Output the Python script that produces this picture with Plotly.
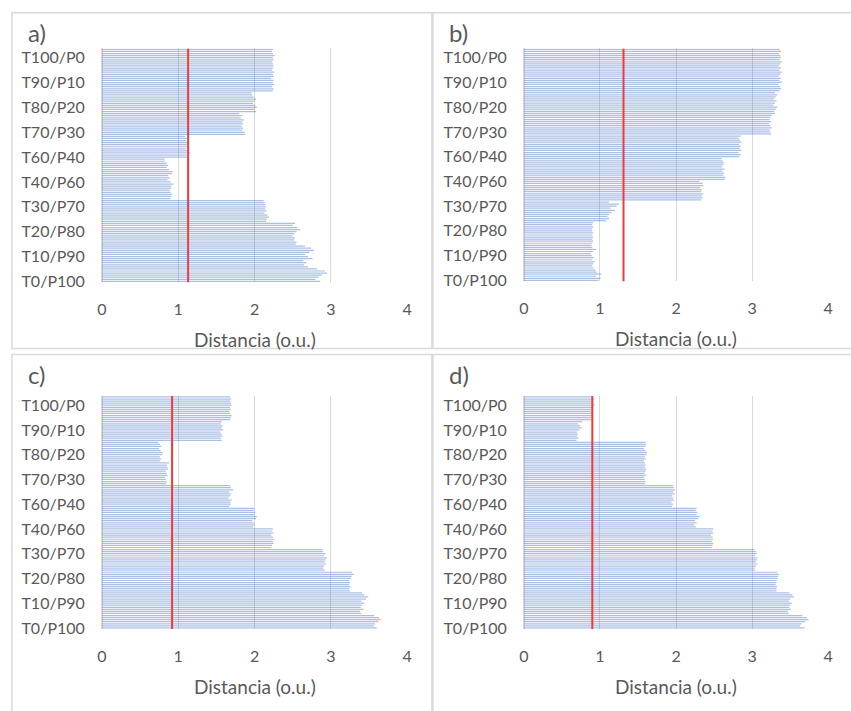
import plotly.graph_objects as go

# ---------------- data ----------------
tick_labels = ["T0/P100", "T10/P90", "T20/P80", "T30/P70", "T40/P60",
               "T60/P40", "T70/P30", "T80/P20", "T90/P10", "T100/P0"]
tick_index = [0, 12, 24, 36, 48, 60, 72, 84, 96, 108]

panel_labels = ["a)", "b)", "c)", "d)"]
thresholds = [1.13, 1.31, 0.92, 0.90]

dist_a = [2.86, 2.80, 2.84, 2.88, 2.95, 2.92, 2.82,
          2.70, 2.65, 2.68, 2.64, 2.76, 2.70, 2.66, 2.72, 2.78, 2.74, 2.66,
          2.54, 2.55, 2.52, 2.53, 2.50, 2.52, 2.55, 2.60, 2.56, 2.50, 2.53,
          2.15, 2.16, 2.19, 2.17, 2.13, 2.16, 2.14, 2.15, 2.14, 2.13, 2.12,
          0.90, 0.91, 0.92, 0.90, 0.89, 0.91, 0.91, 0.94, 0.90, 0.86,
          0.89, 0.87, 0.92, 0.93, 0.88, 0.85, 0.87, 0.85, 0.83, 0.82,
          1.12, 1.11, 1.16, 1.14, 1.10, 1.12, 1.11, 1.13, 1.10, 1.11, 1.09,
          1.88, 1.87, 1.84, 1.85, 1.83, 1.85, 1.84, 1.86, 1.82, 1.84, 1.80,
          2.02, 2.00, 2.03, 2.01, 1.98, 2.00, 2.02, 1.99, 1.97, 1.96,
          2.24, 2.25, 2.23, 2.26, 2.24, 2.25, 2.22, 2.25, 2.24, 2.26, 2.23,
          2.24, 2.25, 2.24, 2.23, 2.25, 2.24, 2.26, 2.24, 2.23, 2.24]

dist_b = [0.98, 1.01, 0.95, 1.02, 0.96, 0.94, 0.92, 0.90, 0.91, 0.93,
          0.90, 0.92, 0.89, 0.88, 0.91, 0.95, 0.90, 0.89, 0.90, 0.91,
          0.90, 0.91, 0.90, 0.91, 0.90, 0.90, 0.91, 0.90, 0.91,
          1.08, 1.12, 1.10, 1.12, 1.15, 1.20, 1.14, 1.22, 1.25, 1.12,
          2.33, 2.35, 2.34, 2.36, 2.33, 2.34, 2.32, 2.36, 2.35, 2.31,
          2.64, 2.65, 2.62, 2.63, 2.61, 2.64, 2.60, 2.62, 2.63, 2.61, 2.60,
          2.83, 2.85, 2.82, 2.86, 2.84, 2.85, 2.83, 2.86, 2.84, 2.82, 2.85,
          3.25, 3.24, 3.23, 3.26, 3.24, 3.22, 3.25, 3.23, 3.24, 3.26,
          3.30, 3.29, 3.31, 3.33, 3.28, 3.30, 3.32, 3.29, 3.31, 3.33, 3.30,
          3.36, 3.38, 3.37, 3.35, 3.39, 3.36, 3.38, 3.35, 3.37, 3.39, 3.36,
          3.38, 3.35, 3.37, 3.39, 3.36, 3.38, 3.37, 3.35, 3.38, 3.36]

dist_c = [3.60, 3.56, 3.58, 3.62, 3.65, 3.63, 3.57,
          3.40, 3.38, 3.43, 3.39, 3.41, 3.44, 3.40, 3.46, 3.49, 3.44, 3.41,
          3.25, 3.24, 3.26, 3.24, 3.25, 3.24, 3.26, 3.27, 3.30, 3.28,
          2.92, 2.90, 2.91, 2.94, 2.92, 2.93, 2.95, 2.91, 2.93, 2.90, 2.89,
          2.22, 2.23, 2.25, 2.24, 2.26, 2.24, 2.22, 2.25, 2.23, 2.24,
          1.98, 2.00, 1.99, 1.97, 2.02, 2.03, 2.00, 2.01, 1.99, 2.00,
          1.67, 1.69, 1.68, 1.70, 1.66, 1.68, 1.69, 1.67, 1.72, 1.69, 1.68,
          0.84, 0.85, 0.84, 0.83, 0.86, 0.85, 0.84, 0.87, 0.86, 0.85, 0.88,
          0.76, 0.78, 0.76, 0.79, 0.80, 0.77, 0.75, 0.78, 0.76, 0.74,
          1.57, 1.56, 1.58, 1.57, 1.55, 1.59, 1.57, 1.58, 1.56, 1.57,
          1.68, 1.69, 1.70, 1.68, 1.67, 1.69, 1.68, 1.70, 1.69, 1.68, 1.69, 1.68]

dist_d = [3.69, 3.63, 3.65, 3.70, 3.74, 3.72, 3.66,
          3.48, 3.47, 3.51, 3.49, 3.50, 3.52, 3.48, 3.50, 3.55, 3.53, 3.49,
          3.32, 3.32, 3.33, 3.31, 3.32, 3.32, 3.33, 3.34, 3.35, 3.33,
          3.04, 3.03, 3.05, 3.07, 3.05, 3.06, 3.07, 3.04, 3.06, 3.05, 3.03,
          2.47, 2.48, 2.49, 2.47, 2.49, 2.48, 2.46, 2.49, 2.48, 2.49,
          2.26, 2.24, 2.27, 2.25, 2.29, 2.31, 2.27, 2.28, 2.26, 2.27,
          1.95, 1.96, 1.94, 1.97, 1.96, 1.95, 1.98, 1.96, 1.99, 1.97, 1.96,
          1.59, 1.60, 1.59, 1.58, 1.60, 1.59, 1.60, 1.61, 1.59, 1.60, 1.59,
          1.58, 1.60, 1.59, 1.61, 1.62, 1.60, 1.58, 1.60, 1.61, 1.60,
          0.69, 0.72, 0.70, 0.71, 0.70, 0.73, 0.76, 0.74, 0.71, 0.77,
          0.90, 0.89, 0.91, 0.90, 0.89, 0.91, 0.90, 0.93, 0.90, 0.91, 0.92, 0.90]

series = [dist_a, dist_b, dist_c, dist_d]

# ---------------- layout (pixels) ----------------
W, H = 851, 711
# plot areas: (x0, x1, ytop, ybottom) in pixels
areas = [(98, 407, 48, 285), (525, 833, 48, 284),
         (98, 407, 400, 636), (525, 833, 400, 636)]
boxes = [(7, 12, 432, 352), (433, 12, 860, 352),
         (7, 358, 432, 720), (433, 358, 860, 720)]

GRAY = "#595959"
FONT = "Lato"

fig = go.Figure()
layout = dict(width=W, height=H, margin=dict(l=0, r=0, t=0, b=0),
              paper_bgcolor="white", plot_bgcolor="white",
              showlegend=False, bargap=0.4,
              font=dict(family=FONT, color=GRAY))
shapes, annotations = [], []

for k, vals in enumerate(series):
    n = len(vals)
    sfx = "" if k == 0 else str(k + 1)
    x0, x1, yt, yb = areas[k]
    xd = [x0 / W, x1 / W]
    yd = [1 - yb / H, 1 - yt / H]
    fig.add_trace(go.Bar(x=vals, y=list(range(n)), orientation="h",
                         marker=dict(color="rgba(68,114,196,0.45)", line=dict(width=0)),
                         xaxis="x" + sfx, yaxis="y" + sfx))
    fig.add_trace(go.Scatter(x=[thresholds[k], thresholds[k]], y=[-0.5, n - 0.5],
                             mode="lines", line=dict(color="#EE3B3B", width=2),
                             xaxis="x" + sfx, yaxis="y" + sfx))
    layout["xaxis" + sfx] = dict(domain=xd, anchor="y" + sfx, range=[0, 4],
                                 tickvals=[0, 1, 2, 3, 4], showgrid=True,
                                 gridcolor="#D9D9D9", gridwidth=1,
                                 zeroline=True, zerolinecolor="#D9D9D9",
                                 showline=False, ticks="",
                                 ticklabelstandoff=16,
                                 tickfont=dict(size=16, color=GRAY, family=FONT))
    layout["yaxis" + sfx] = dict(domain=yd, anchor="x" + sfx,
                                 range=[-0.5, n - 0.5],
                                 tickvals=tick_index, ticktext=tick_labels,
                                 showgrid=False, zeroline=False, ticks="",
                                 ticklabelstandoff=16,
                                 tickfont=dict(size=16, color=GRAY, family=FONT))
    bx0, by0, bx1, by1 = boxes[k]
    shapes.append(dict(type="rect", xref="paper", yref="paper",
                       x0=bx0 / W, x1=bx1 / W, y0=1 - by1 / H, y1=1 - by0 / H,
                       line=dict(color="#D9D9D9", width=1.5)))
    annotations.append(dict(text=panel_labels[k], xref="paper", yref="paper",
                            x=(bx0 + 14) / W, y=1 - (by0 + 20) / H,
                            xanchor="left", yanchor="middle", showarrow=False,
                            font=dict(size=24, color=GRAY, family=FONT)))
    annotations.append(dict(text="Distancia (o.u.)", xref="paper", yref="paper",
                            x=(x0 + x1) / 2 / W, y=1 - (yb + 58) / H,
                            xanchor="center", yanchor="middle", showarrow=False,
                            font=dict(size=19, color=GRAY, family=FONT)))

layout["shapes"] = shapes
layout["annotations"] = annotations
fig.update_layout(**layout)
fig.write_html("out.html", config={"displayModeBar": False},
               post_script="document.body.style.margin='0';document.body.style.overflow='hidden';")
